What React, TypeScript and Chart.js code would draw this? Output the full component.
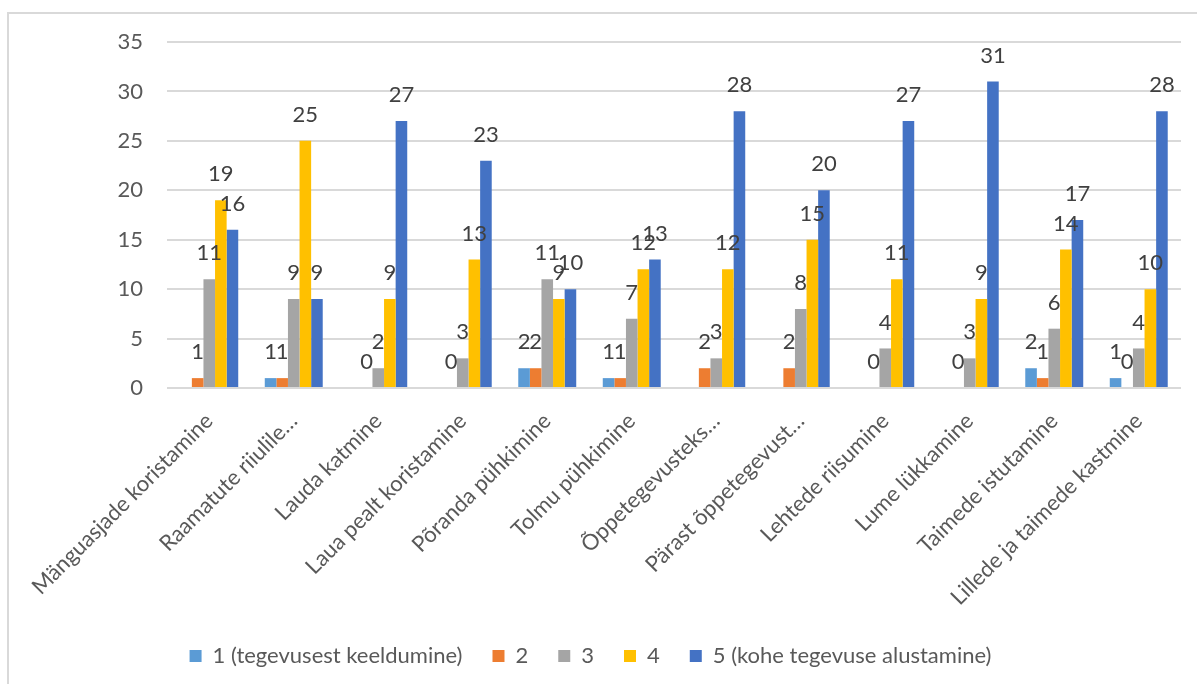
import React, { useEffect, useRef } from "react";
import { Chart, registerables } from "chart.js";

Chart.register(...registerables);

const categories = [
  "Mänguasjade koristamine",
  "Raamatute riiulile…",
  "Lauda katmine",
  "Laua pealt koristamine",
  "Põranda pühkimine",
  "Tolmu pühkimine",
  "Õppetegevusteks…",
  "Pärast õppetegevust…",
  "Lehtede riisumine",
  "Lume lükkamine",
  "Taimede istutamine",
  "Lillede ja taimede kastmine",
];

const seriesNames = [
  "1 (tegevusest keeldumine)",
  "2",
  "3",
  "4",
  "5 (kohe tegevuse alustamine)",
];

const series1 = [null, 1, null, null, 2, 1, null, null, null, null, 2, 1];
const series2 = [1, 1, 0, 0, 2, 1, 2, 2, 0, 0, 1, 0];
const series3 = [11, 9, 2, 3, 11, 7, 3, 8, 4, 3, 6, 4];
const series4 = [19, 25, 9, 13, 9, 12, 12, 15, 11, 9, 14, 10];
const series5 = [16, 9, 27, 23, 10, 13, 28, 20, 27, 31, 17, 28];

const colors = ["#5B9BD5", "#ED7D31", "#A5A5A5", "#FFC000", "#4472C4"];
const yTicks = [0, 5, 10, 15, 20, 25, 30, 35];

const FONT = "Lato";
const FS = 22;

const dataLabelPlugin = {
  id: "dataLabels",
  afterDatasetsDraw(chart: any) {
    const ctx = chart.ctx;
    ctx.save();
    ctx.font = `${FS}px ${FONT}`;
    ctx.fillStyle = "#404040";
    ctx.textAlign = "center";
    ctx.textBaseline = "middle";
    chart.data.datasets.forEach((ds: any, i: number) => {
      const meta = chart.getDatasetMeta(i);
      meta.data.forEach((el: any, j: number) => {
        const v = ds.data[j];
        if (v === null || v === undefined) return;
        ctx.fillText(String(v), el.x, el.y - 26);
      });
    });
    ctx.restore();
  },
};

export default function App() {
  const ref = useRef<HTMLCanvasElement | null>(null);

  useEffect(() => {
    if (!ref.current) return;
    const all = [series1, series2, series3, series4, series5];
    const chart = new Chart(ref.current, {
      type: "bar",
      data: {
        labels: categories,
        datasets: all.map((d, i) => ({
          label: seriesNames[i],
          data: d,
          backgroundColor: colors[i],
          borderWidth: 0,
          barPercentage: 1,
          categoryPercentage: 0.686,
        })),
      },
      options: {
        animation: false,
        responsive: false,
        devicePixelRatio: 1,
        layout: { padding: { left: 0, top: 42, right: 16, bottom: 7 } },
        plugins: {
          tooltip: { enabled: false },
          legend: {
            position: "bottom",
            labels: {
              boxWidth: 12,
              boxHeight: 12,
              padding: 30,
              color: "#595959",
              font: { family: FONT, size: FS },
            },
          },
        },
        scales: {
          x: {
            grid: { display: false },
            border: { display: false },
            ticks: {
              autoSkip: false,
              maxRotation: 45,
              minRotation: 45,
              color: "#595959",
              font: { family: FONT, size: FS },
              padding: 12,
            },
            afterFit: (scale: any) => {
              scale.height = 227;
            },
          },
          y: {
            min: 0,
            max: 35,
            afterBuildTicks: (scale: any) => {
              scale.ticks = yTicks.map((v) => ({ value: v }));
            },
            grid: { color: "#D9D9D9", lineWidth: 2, drawTicks: false },
            border: { display: false },
            ticks: {
              color: "#595959",
              font: { family: FONT, size: FS },
              padding: 24,
            },
            afterFit: (scale: any) => {
              scale.width = 167;
            },
          },
        },
      },
      plugins: [dataLabelPlugin],
    });
    return () => chart.destroy();
  }, []);

  return (
    <div style={{ position: "absolute", left: 0, top: 0, width: 1197, height: 684, background: "#fff", overflow: "hidden" }}>
      <div
        style={{
          position: "absolute",
          left: 7,
          top: 12,
          width: 1200,
          height: 700,
          borderLeft: "2px solid #D9D9D9",
          borderTop: "2px solid #D9D9D9",
        }}
      />
      <canvas ref={ref} width={1197} height={684} style={{ position: "absolute", left: 0, top: 0 }} />
    </div>
  );
}
